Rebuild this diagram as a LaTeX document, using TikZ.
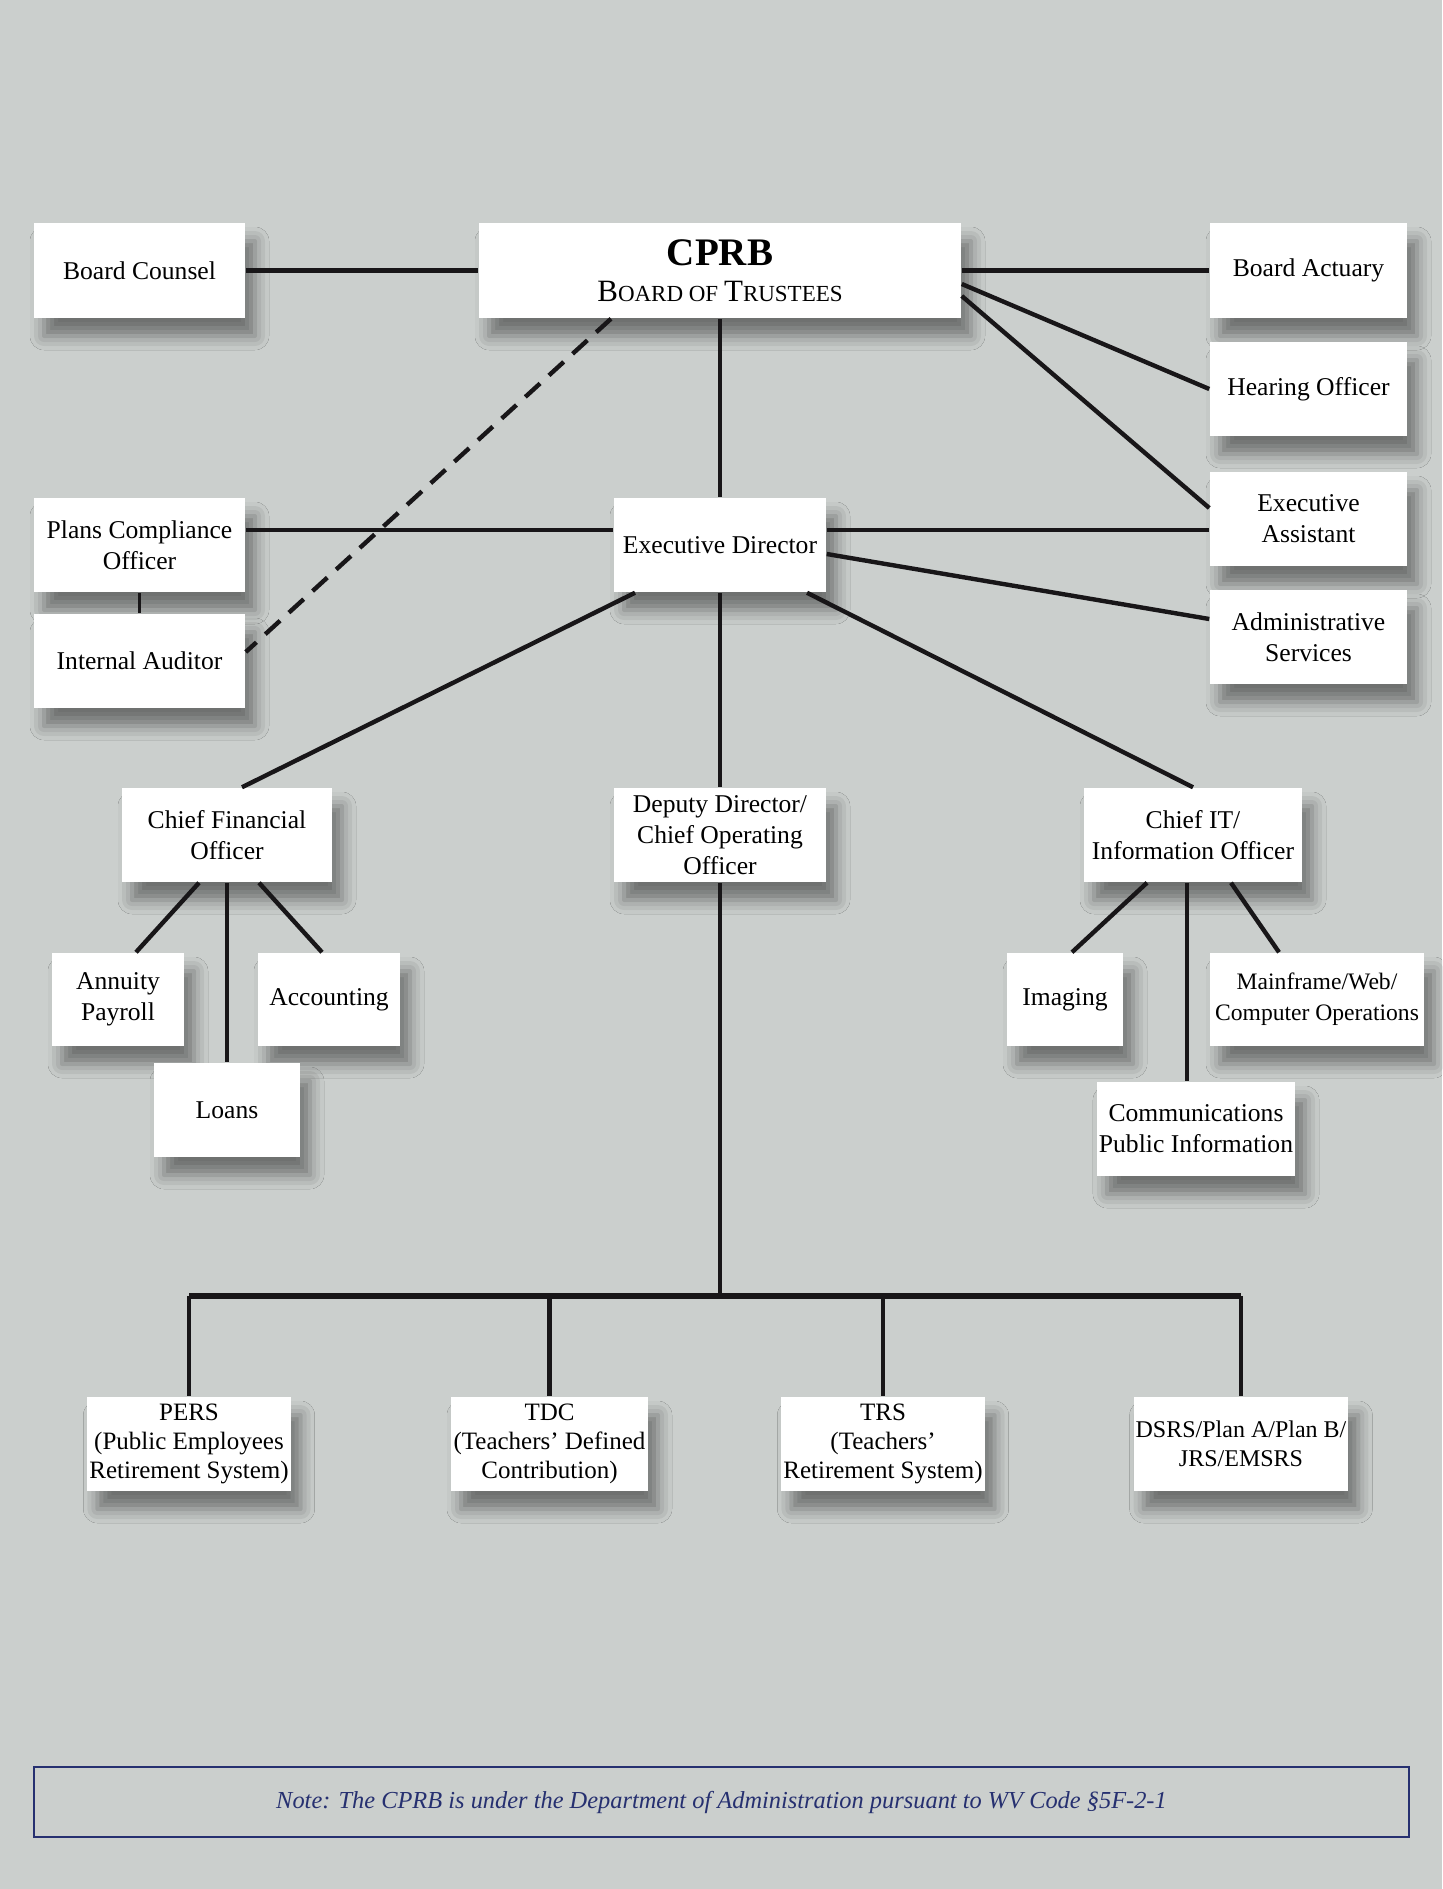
\documentclass[tikz,border=0pt]{standalone}
\usepackage{fontspec}
\setmainfont{Liberation Serif}
\usepackage{tikz}
\usetikzlibrary{shadows.blur}
\definecolor{marble}{RGB}{203,207,205}
\definecolor{notenavy}{RGB}{38,48,112}
\tikzset{every picture/.style={line width=0.75pt}}
\newcommand{\boxfont}{\fontsize{12.8}{15.5}\selectfont}

\begin{document}
\begin{tikzpicture}[x=0.5pt,y=0.5pt,yscale=-1,xscale=1,
		box/.style={fill=white, inner sep=1pt, align=center, font=\boxfont,
			blur shadow={shadow xshift=5pt, shadow yshift=-9pt, shadow blur radius=7pt, shadow opacity=45}},
		link/.style={draw={rgb, 255:red, 24; green, 22; blue, 24 }, line width=2.2pt},
		thinlink/.style={link, line width=1.6pt},
		dashlink/.style={link, dash pattern=on 10pt off 6pt}]
		% background
		\useasboundingbox (0,0) rectangle (1442,1889);
		\fill [marble] (0,0) rectangle (1442,1889);
		
		% Top row
		\node [box, minimum width=105.5pt, minimum height=47.5pt] (counsel) at (139.5,270.5) {Board Counsel};
		\node [box, minimum width=241pt, minimum height=47.5pt] (cprb) at (720,270.5) {{\fontsize{19.5}{20}\selectfont\bfseries CPRB}\\[2.5pt]{\fontsize{15.5}{16}\selectfont B}{\fontsize{11.5}{16}\selectfont OARD OF }{\fontsize{15.5}{16}\selectfont T}{\fontsize{11.5}{16}\selectfont RUSTEES}};
		\node [box, minimum width=98.5pt, minimum height=47.5pt] (actuary) at (1308.5,270.5) {Board Actuary};
		\node [box, minimum width=98.5pt, minimum height=47pt] (hearing) at (1308.5,389) {Hearing Officer};
		\node [box, minimum width=98.5pt, minimum height=47pt] (assistant) at (1308.5,519) {Executive\\Assistant};
		\node [box, minimum width=98.5pt, minimum height=47pt] (admin) at (1308.5,637) {Administrative\\Services};
		
		% Executive level
		\node [box, minimum width=105.5pt, minimum height=47pt] (plans) at (139.5,545) {Plans Compliance\\Officer};
		\node [box, minimum width=105.5pt, minimum height=47pt] (auditor) at (139.5,661) {Internal Auditor};
		\node [box, minimum width=106pt, minimum height=47pt] (ed) at (720,545) {Executive Director};
		
		% Officers
		\node [box, minimum width=105pt, minimum height=47pt] (cfo) at (227,835) {Chief Financial\\Officer};
		\node [box, minimum width=106pt, minimum height=47pt] (dd) at (720,835) {Deputy Director/\\Chief Operating\\Officer};
		\node [box, minimum width=109pt, minimum height=47pt] (cit) at (1193,835) {Chief IT/\\Information Officer};
		
		% Finance units
		\node [box, minimum width=66pt, minimum height=46.5pt] (annuity) at (118,999.5) {Annuity\\Payroll};
		\node [box, minimum width=71pt, minimum height=46.5pt] (accounting) at (329,999.5) {Accounting};
		\node [box, minimum width=73pt, minimum height=47pt] (loans) at (227,1110) {Loans};
		
		% IT units
		\node [box, minimum width=58pt, minimum height=46.5pt] (imaging) at (1065,999.5) {Imaging};
		\node [box, minimum width=107pt, minimum height=46.5pt, font=\fontsize{11.8}{15.5}\selectfont] (mainframe) at (1317,999.5) {Mainframe/Web/\\Computer Operations};
		\node [box, minimum width=99pt, minimum height=47pt] (comm) at (1196,1129) {Communications\\Public Information};
		
		% Retirement systems
		\node [box, minimum width=99pt, minimum height=47pt, font=\fontsize{12.5}{14.5}\selectfont] (pers) at (189,1444) {PERS\\(Public Employees\\Retirement System)};
		\node [box, minimum width=98.5pt, minimum height=47pt, font=\fontsize{12.5}{14.5}\selectfont] (tdc) at (549.5,1444) {TDC\\(Teachers' Defined\\Contribution)};
		\node [box, minimum width=99pt, minimum height=47pt, font=\fontsize{12.5}{14.5}\selectfont] (trs) at (883,1444) {TRS\\(Teachers'\\Retirement System)};
		\node [box, minimum width=99pt, minimum height=47pt, font=\fontsize{12}{14.5}\selectfont] (dsrs) at (1241,1444) {DSRS/Plan A/Plan B/\\JRS/EMSRS};
		
		% Note
		\node [draw=notenavy, line width=1pt, minimum width=687.5pt, minimum height=35pt, text=notenavy, font=\fontsize{12.2}{14}\selectfont\itshape] (note) at (721.5,1802) {Note: The CPRB is under the Department of Administration pursuant to WV Code §5F-2-1};
		
		% Board connectors
		\draw [link] (counsel.east) -- (cprb.west);
		\draw [link] (cprb.east) -- (actuary.west);
		\draw [link] ([yshift=6.75pt]cprb.east) -- (hearing.west);
		\draw [link] ([yshift=12.75pt]cprb.east) -- ([yshift=-5.5pt]assistant.west);
		\draw [thinlink] (cprb.south) -- (ed.north);
		\draw [dashlink] ([xshift=-54.5pt]cprb.south) -- ([yshift=-4.5pt]auditor.east);
		
		% Executive Director connectors
		\draw [link] ([yshift=-7.5pt]plans.east) -- ([yshift=-7.5pt]ed.west);
		\draw [link] ([yshift=-7.5pt]ed.east) -- ([yshift=-7.5pt]ed.east -| assistant.west);
		\draw [link] ([yshift=4.5pt]ed.east) -- ([yshift=-9pt]admin.west);
		\draw [thinlink] (plans.south) -- (auditor.north);
		\draw [link] ([xshift=-42.5pt]ed.south) -- ([xshift=7.5pt]cfo.north);
		\draw [link] ([xshift=43.5pt]ed.south) -- (cit.north);
		\draw [thinlink] (ed.south) -- (dd.north);
		
		% Finance connectors
		\draw [link] ([xshift=-14pt]cfo.south) -- ([xshift=9pt]annuity.north);
		\draw [link] (cfo.south) -- (loans.north);
		\draw [link] ([xshift=16pt]cfo.south) -- ([xshift=-3.5pt]accounting.north);
		
		% IT connectors
		\draw [link] ([xshift=-23pt]cit.south) -- ([xshift=3.5pt]imaging.north);
		\draw [link] ([xshift=-3pt]cit.south) -- ([xshift=-3pt]cit.south |- comm.north);
		\draw [link] ([xshift=19pt]cit.south) -- ([xshift=-19pt]mainframe.north);
		
		% Retirement bus
		\coordinate (bus) at (720,1296);
		\draw [link] (dd.south) -- (bus);
		\draw [link, line width=2.8pt] (pers.north |- bus) -- (dsrs.north |- bus);
		\foreach \sys in {pers,tdc,trs,dsrs}
		\draw [link] (\sys.north |- bus) -- (\sys.north);
		
		\end{tikzpicture}
\end{document}
